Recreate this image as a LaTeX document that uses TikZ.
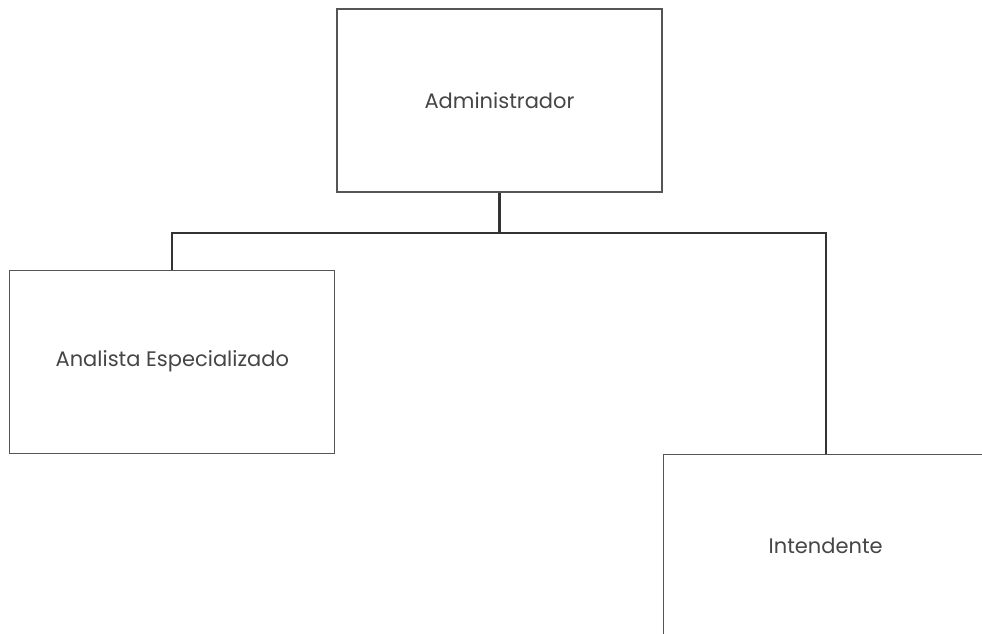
\documentclass[tikz,border=0pt]{standalone}
\usepackage{fontspec}
\setmainfont{Poppins}
\usepackage{xcolor}
\definecolor{bordegris}{RGB}{85, 85, 85}
\definecolor{lineaoscura}{RGB}{51, 51, 51}
\definecolor{textogris}{RGB}{70, 70, 70}
\usepackage{tikz}
\usetikzlibrary{positioning}

\begin{document}
\begin{tikzpicture}[x=1pt, y=-1pt,
  cargo/.style={draw=bordegris, line width=1.2pt, fill=white, inner sep=0pt, minimum width=325pt, minimum height=183pt, font=\fontsize{21}{25}\selectfont, text=textogris},
  enlace/.style={draw=lineaoscura, line width=2.2pt}]
\useasboundingbox (0,0) rectangle (982,634);

% puestos
\node[cargo] (admin) at (499.5,100.5) {Administrador};
\node[cargo, below left=77pt and 1pt of admin.south west] (analista) {Analista Especializado};
\node[cargo, below right=261pt and 0pt of admin.south east] (intendente) {Intendente};

% lineas
\draw[enlace] (admin.south) -- ++(0,40) coordinate (rama);
\draw[enlace] (rama) -| (analista.north);
\draw[enlace] (rama) -| (intendente.north);
\end{tikzpicture}
\end{document}
